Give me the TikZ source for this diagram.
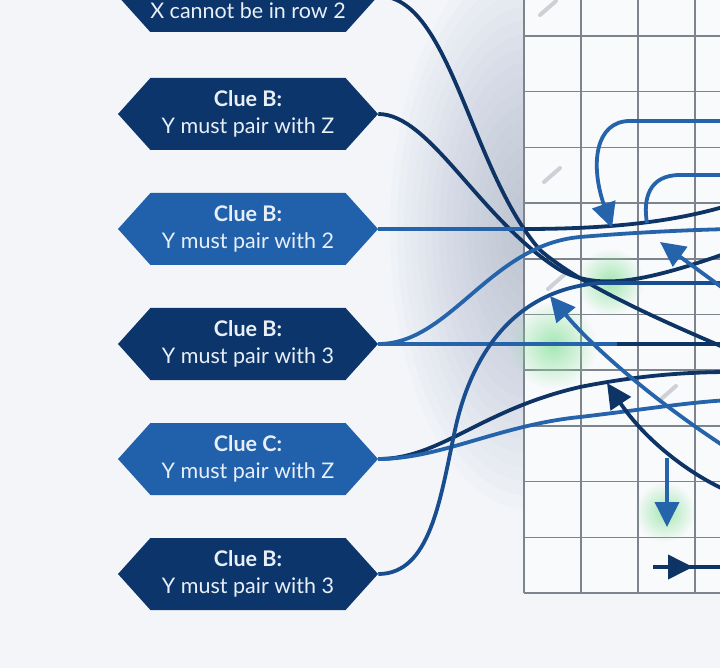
\documentclass[tikz,border=0pt]{standalone}
\usepackage{fontspec}
\setmainfont{Lato}
\usepackage{xcolor}
\definecolor{clueDark}{HTML}{0C366B}
\definecolor{clueMid}{HTML}{2161AC}
\definecolor{wireDark}{HTML}{0E3466}
\definecolor{wireMid}{HTML}{2563AB}
\definecolor{wireMix}{HTML}{184E90}
\definecolor{gridGray}{HTML}{7E848E}
\definecolor{pageBg}{HTML}{F3F5F9}
\definecolor{panelBg}{HTML}{F9FAFC}
\definecolor{shadeBlue}{HTML}{8F9DB8}
\definecolor{glowGreen}{HTML}{8FE3A0}
\definecolor{slashGray}{HTML}{CDD1D7}
\usepackage{tikz}
\usetikzlibrary{shapes.symbols,arrows.meta,fadings,positioning}
\tikzfading[name=softglow, inner color=transparent!0, outer color=transparent!100]
\tikzset{
    clue/.style={
        signal,
        signal to=west and east,
        signal pointer angle=96,
        fill=clueDark,
        text=white!90!clueMid,
        minimum width=260pt,
        minimum height=72pt,
        inner sep=0pt,
        align=center,
        font=\fontsize{21.5}{27}\selectfont
    },
    cluemid/.style={
        clue,
        fill=clueMid
    },
    wire/.style={
        line width=3.8pt,
        draw=wireDark
    },
    wiremid/.style={
        wire,
        draw=wireMid
    },
    wiremix/.style={
        wire,
        draw=wireMix
    },
    tip/.style={
        -{Triangle[length=25pt,width=24pt]}
    },
    gridline/.style={
        gridGray,
        line width=1.5pt
    },
    slash/.style={
        slashGray,
        line width=4pt,
        line cap=round
    },
    glow/.style={
        fill=glowGreen,
        opacity=0.8,
        path fading=softglow
    }
}

\begin{document}
\begin{tikzpicture}[x=1pt,y=-1pt]
    \useasboundingbox (0,0) rectangle (720,668);
    \clip (0,0) rectangle (720,668);
    \fill[pageBg] (0,0) rectangle (720,668);

    % soft shadow left of the grid
    \begin{scope}
        \clip (340,-5) rectangle (524,668);
        \foreach \r in {1,...,20}
            \fill[shadeBlue, opacity=0.03] (530,230) ellipse ({7*\r} and {14*\r});
    \end{scope}

    % grid
    \fill[panelBg] (524,-5) rectangle (730,593);
    \foreach \gx in {524,581,638,695}
        \draw[gridline] (\gx,-5) -- (\gx,593);
    \foreach \k in {0,...,10}
        \draw[gridline] (524,{36+55.7*\k}) -- (730,{36+55.7*\k});

    % pencil marks and green glows
    \foreach \sx/\sy in {548/8, 552/175, 556/282, 668/393}
        \draw[slash] ({\sx-8},{\sy+7}) -- ({\sx+8},{\sy-7});
    \fill[glow] (553,345) circle (44);
    \fill[glow] (610,282) circle (34);
    \fill[glow] (665,512) circle (30);

    % clue tags
    \node[clue] (c1) at (248,-4) {\strut\\X cannot be in row 2};
    \node[clue] (c2) at (248,114) {\textbf{Clue B:}\\Y must pair with Z};
    \node[cluemid] (c3) at (248,229) {\textbf{Clue B:}\\Y must pair with 2};
    \node[clue] (c4) at (248,344) {\textbf{Clue B:}\\Y must pair with 3};
    \node[cluemid] (c5) at (248,459) {\textbf{Clue C:}\\Y must pair with Z};
    \node[clue] (c6) at (248,574) {\textbf{Clue B:}\\Y must pair with 3};

    % loose ends
    \coordinate (e1) at (730,350);
    \coordinate (e2) at (730,252);
    \coordinate (e3) at (730,205);
    \coordinate (e4) at (730,344);
    \coordinate (e5) at (730,229);
    \coordinate (e6) at (730,372);
    \coordinate (e7) at (730,400);
    \coordinate (e8) at (730,283);
    \coordinate (g3) at (524,229);
    \coordinate (g4) at (617,344);

    % wires out of the clues
    \draw[wire] (c1.east) .. controls +(72,0) and (470,170) .. (540,250) .. controls (580,285) and (660,320) .. (e1);
    \draw[wire] (c2.east) .. controls +(52,0) and (480,220) .. (560,270) .. controls (600,292) and (650,280) .. (e2);
    \draw[wiremid] (c3.east) -- (g3);
    \draw[wire] (g3) .. controls (620,229) and (680,220) .. (e3);
    \draw[wiremid] (c4.east) .. controls +(72,0) and (490,245) .. (580,237) .. controls (640,232) and (690,230) .. (e5);
    \draw[wiremid] (c4.east) -- (g4);
    \draw[wire] (g4) -- (e4);
    \draw[wire] (c5.east) .. controls +(62,0) and (480,410) .. (580,387) .. controls (640,375) and (690,372) .. (e6);
    \draw[wiremid] (c5.east) .. controls +(62,0) and (500,425) .. (580,417) .. controls (640,410) and (690,402) .. (e7);
    \draw[wiremix] (c6.east) .. controls +(52,0) and (440,500) .. (455,430) .. controls (470,360) and (510,290) .. (600,283) -- (e8);

    % arrows inside the grid
    \coordinate (s1) at (730,121);
    \coordinate (t1) at (612,228);
    \coordinate (s2) at (730,175);
    \coordinate (t2) at (647,223);
    \coordinate (s3) at (735,297);
    \coordinate (t3) at (660,242);
    \coordinate (s4) at (730,450);
    \coordinate (t4) at (550,296);
    \coordinate (s5) at (730,492);
    \coordinate (t5) at (607,383);
    \coordinate (s6) at (667,458);
    \coordinate (t6) at (667,527);
    \coordinate (s7) at (653,567);
    \coordinate (t7) at (693,567);
    \coordinate (e9) at (730,567);

    \draw[wiremid, tip] (s1) -- (630,121) .. controls (595,121) and (590,165) .. (t1);
    \draw[wiremid] (s2) -- (680,175) .. controls (648,175) and (643,200) .. (t2);
    \draw[wiremid, tip] (s3) -- (t3);
    \draw[wiremid, tip] (s4) .. controls (660,405) and (595,350) .. (t4);
    \draw[wire, tip] (s5) .. controls (690,475) and (645,440) .. (t5);
    \draw[wiremid, tip] (s6) -- (t6);
    \draw[wire] (s7) -- (e9);
    \draw[wire, tip] (s7) -- (t7);
\end{tikzpicture}
\end{document}
